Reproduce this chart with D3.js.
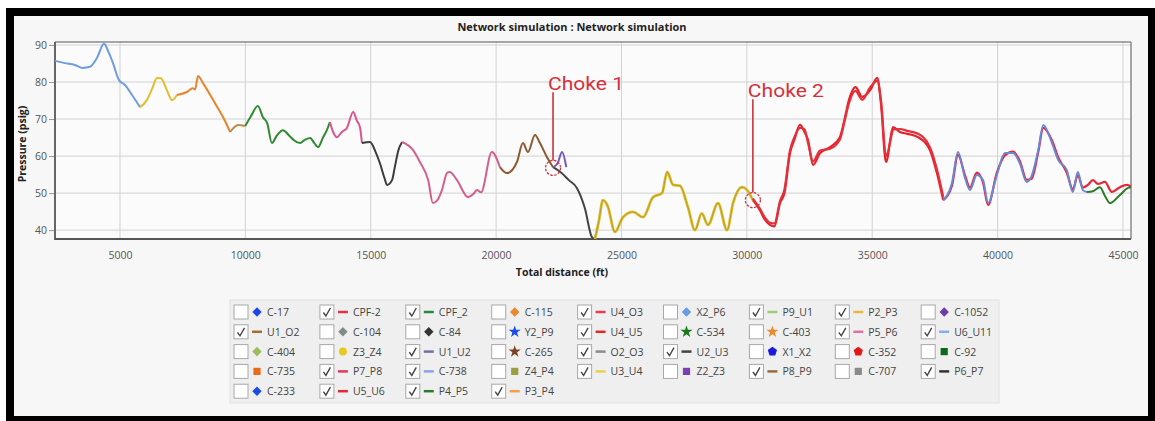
<!DOCTYPE html>
<html>
<head>
<meta charset="utf-8">
<script src="https://cdn.jsdelivr.net/npm/d3@7"></script>
<style>
  body { margin: 0; background: #fff; }
  svg { display: block; font-family: "Open Sans", "Noto Sans", sans-serif; }
</style>
</head>
<body>
<div id="viz"></div>
<script>

// ---- data ----
var xTicks = [5000, 10000, 15000, 20000, 25000, 30000, 35000, 40000, 45000];
var yTicks = [40, 50, 60, 70, 80, 90];

// series drawn in the plot, back to front
var seriesNames  = ["U6_U11", "P2_P3", "P3_P4", "U1_O2", "CPF_2", "P5_P6", "P6_P7", "P7_P8", "P8_P9",
                    "U2_U3", "U1_U2", "U3_U4", "U4_U5", "U4_O3", "U5_U6", "C-738", "P4_P5"];
var seriesColors = ["#6d9ce2", "#e3bd30", "#e8852c", "#c08a48", "#2f8a30", "#d9568c", "#3c3c3c", "#d2608f", "#8c5a32",
                    "#444444", "#7558b5", "#e0bf2a", "#e5202a", "#e5303a", "#e3283a", "#6a88d6", "#2a7a2a"];

var distU6U11 = [2408, 2800, 3200, 3525, 3800, 4080, 4362, 4550, 4720, 4960, 5200, 5480, 5800];
var psigU6U11 = [85.7, 85.1, 84.6, 83.8, 84.1, 86.5, 90.3, 88, 85.1, 80.5, 79.2, 76.5, 73.2];

var distP2P3 = [5800, 6070, 6300, 6470, 6630, 6870, 7070, 7270];
var psigP2P3 = [73.2, 75.1, 78.5, 81.1, 81, 77.8, 75.1, 76.5];

var distP3P4 = [7270, 7670, 7900, 8000, 8110, 8310, 8600, 8870, 9150, 9390];
var psigP3P4 = [76.5, 77.3, 78.3, 78, 81.6, 79.7, 76.5, 73.3, 70, 66.5];

var distU1O2 = [9390, 9710, 9990];
var psigU1O2 = [66.5, 68.4, 68.1];

var distCPF2 = [9990, 10200, 10500, 10700, 10870, 11060, 11250, 11500, 11750, 11950, 12180, 12400, 12580, 12750, 12900, 13100, 13250, 13370];
var psigCPF2 = [68.1, 70.5, 73.5, 70.5, 68.9, 63.5, 65.5, 67, 65.5, 64.2, 63.5, 64.5, 64.9, 63.5, 62.4, 65.1, 67, 69.2];

var distP5P6 = [13370, 13500, 13650, 13850, 14050, 14300, 14450, 14570, 14650];
var psigP5P6 = [69.2, 66.5, 65.1, 66.5, 67.6, 71.9, 69.5, 67.8, 63.5];

var distP6P7 = [14650, 14970, 15200, 15370, 15550, 15650, 15850, 15960, 16100, 16250];
var psigP6P7 = [63.5, 63.8, 61, 58, 54, 52.2, 53.5, 57, 61.5, 63.8];

var distP7P8 = [16250, 16690, 16960, 17290, 17480, 17650, 17840, 18040, 18150, 18440, 18880, 19100, 19240, 19400, 19830, 20150];
var psigP7P8 = [63.8, 61.6, 58.4, 53.5, 47.3, 48, 50.8, 55.4, 55.7, 53.5, 48.9, 49.8, 50.8, 50.2, 61.1, 57];

var distP8P9 = [20150, 20430, 20830, 21070, 21270, 21550, 21750, 22030, 22270];
var psigP8P9 = [57, 55.4, 58.4, 63.5, 61.1, 65.7, 63.5, 59.7, 57];

var distU2U3 = [22270, 22600, 22900, 23220, 23540, 23820, 23940];
var psigU2U3 = [57, 55.5, 53.5, 51.4, 45.9, 38.1, 37.6];

var distU1U2 = [22270, 22450, 22630, 22800];
var psigU1U2 = [57, 58, 61.1, 57];

var distU3U4 = [23940, 24100, 24260, 24450, 24740, 25060, 25460, 25860, 26260, 26620, 26820, 27060, 27330, 27650, 27930, 28200, 28450, 28850, 29210, 29450, 29810, 30010, 30240];
var psigU3U4 = [37.6, 42.5, 48.1, 46.5, 39.5, 43.5, 44.9, 43.5, 48.9, 50, 55.7, 52.2, 52, 46.2, 40, 44.5, 41.4, 47.3, 40, 47.3, 51.6, 50.8, 48.1];

var distU4U5 = [30240, 30520, 30700, 30920, 31100, 31320, 31500, 31720, 31900, 32120, 32300, 32440, 32640, 32920, 33320, 33710, 33900, 34070, 34330, 34600, 34920, 35200, 35350, 35550, 35790, 35830, 36100, 36400, 36830, 37300, 37580, 37830];
var psigU4U5 = [48.1, 45.4, 43, 41.4, 41, 47.3, 50, 60.8, 64.5, 68.4, 66.5, 64.3, 57.6, 60.8, 62.4, 65.1, 70, 75.1, 78.6, 76, 77.8, 81.1, 74, 58.4, 67, 67.8, 66.5, 66, 65.1, 61.6, 55.4, 48.1];

var distU4O3 = [30240, 30520, 30700, 30920, 31100, 31320, 31500, 31720, 31900, 32120, 32300, 32440, 32640, 32920, 33320, 33710, 33900, 34070, 34330, 34600, 34920, 35200, 35350, 35550, 35790, 35830, 36100, 36400, 36830, 37300, 37580, 37830];
var psigU4O3 = [48.5, 45.8, 43.6, 42, 41.8, 47.8, 51, 61.5, 65.2, 67.6, 67.2, 63.5, 58.6, 61.5, 62, 64.5, 69.5, 74.2, 77.6, 75.2, 78.6, 80.3, 75, 60, 66.2, 67.2, 67.3, 66.8, 66, 62.4, 56.4, 49];

var distU5U6 = [37830, 38180, 38420, 38700, 38900, 39170, 39420, 39620, 39970, 40290, 40620, 40890, 41160, 41350, 41620, 41820, 42170, 42420, 42760, 43000, 43200, 43400, 43600, 43800, 44000, 44280, 44560, 44880, 45160, 45320];
var psigU5U6 = [48.1, 52, 60.3, 54.8, 51.5, 55.5, 52.8, 46.8, 55.5, 60.2, 61.2, 58.6, 53.6, 53.8, 61, 67.6, 64.2, 59.6, 55.5, 51, 54.8, 51.5, 52.2, 53.5, 52.5, 53, 50.3, 51.6, 52.2, 51.8];

var distC738 = [37830, 38180, 38420, 38700, 38900, 39170, 39420, 39620, 39970, 40290, 40620, 40890, 41160, 41350, 41620, 41820, 42170, 42420, 42760, 43000, 43200, 43400, 43560];
var psigC738 = [48.1, 52.7, 61.1, 54.1, 50.8, 54.9, 53.5, 47.3, 54.9, 60.8, 60.8, 58, 53, 54.5, 61.6, 68.4, 63.5, 58.9, 56.2, 50.3, 55.7, 50.8, 50.3];

var distP4P5 = [43560, 43800, 44080, 44300, 44480, 44880, 45200, 45320];
var psigP4P5 = [50.3, 50.5, 51.6, 49, 47.3, 49.5, 51.4, 51.6];

var seriesDist = [distU6U11, distP2P3, distP3P4, distU1O2, distCPF2, distP5P6, distP6P7, distP7P8, distP8P9,
                  distU2U3, distU1U2, distU3U4, distU4U5, distU4O3, distU5U6, distC738, distP4P5];
var seriesPsig = [psigU6U11, psigP2P3, psigP3P4, psigU1O2, psigCPF2, psigP5P6, psigP6P7, psigP7P8, psigP8P9,
                  psigU2U3, psigU1U2, psigU3U4, psigU4U5, psigU4O3, psigU5U6, psigC738, psigP4P5];

// choke annotations
var chokeLabels = ["Choke 1", "Choke 2"];
var chokeDist = [22270, 30240];
var chokePsig = [56.8, 48.1];
var chokeLabelPsig = [77.8, 75.9];

// legend, row by row (9 columns)
var legendNames = [
  "C-17", "CPF-2", "CPF_2", "C-115", "U4_O3", "X2_P6", "P9_U1", "P2_P3", "C-1052",
  "U1_O2", "C-104", "C-84", "Y2_P9", "U4_U5", "C-534", "C-403", "P5_P6", "U6_U11",
  "C-404", "Z3_Z4", "U1_U2", "C-265", "O2_O3", "U2_U3", "X1_X2", "C-352", "C-92",
  "C-735", "P7_P8", "C-738", "Z4_P4", "U3_U4", "Z2_Z3", "P8_P9", "C-707", "P6_P7",
  "C-233", "U5_U6", "P4_P5", "P3_P4"];
var legendColors = [
  "#1f45e6", "#e0304a", "#2a8a3a", "#e8882a", "#e04050", "#6a9ae6", "#9acb78", "#e8b840", "#6a3fa8",
  "#a07030", "#7f8c8a", "#333333", "#1a4ee0", "#e02a2a", "#1a7a1a", "#e88a30", "#e070a8", "#86aee6",
  "#9ebc5c", "#e6c81e", "#7070a0", "#7a4422", "#8a8a8a", "#444444", "#1a1ae0", "#e01818", "#0a6a1a",
  "#e86a1a", "#e03a5a", "#8aa2e8", "#9aa040", "#ecd050", "#7a3fb0", "#9a6a40", "#8a8a8a", "#333333",
  "#1a4de0", "#e02a3a", "#2a7a2a", "#f0a050"];
var legendChecked = [
  0, 1, 1, 0, 1, 0, 1, 1, 0,
  1, 0, 0, 0, 1, 0, 0, 1, 1,
  0, 0, 1, 0, 1, 1, 0, 0, 0,
  0, 1, 1, 0, 1, 0, 1, 0, 1,
  0, 1, 1, 1];
var legendShapes = [
  "diamond", "line", "line", "diamond", "line", "diamond", "line", "line", "diamond",
  "line", "diamond", "diamond", "star", "line", "star", "star", "line", "line",
  "diamond", "circle", "line", "star", "line", "line", "pentagon", "pentagon", "square",
  "square", "line", "line", "square", "line", "square", "line", "square", "line",
  "diamond", "line", "line", "line"];

// ---- drawing ----
var W = 1155, H = 421;
var plot = {left: 55, right: 1131, top: 42, bottom: 239};

var svg = d3.select("#viz").append("svg")
  .attr("width", W)
  .attr("height", H);

svg.append("rect").attr("width", W).attr("height", H).attr("fill", "#fff");
// black frame round the screenshot
svg.append("rect").attr("x", 6).attr("y", 8).attr("width", W - 6).attr("height", H - 8).attr("fill", "#000");
svg.append("rect").attr("x", 14).attr("y", 16).attr("width", 1134).attr("height", 400).attr("fill", "#f7f7f7");

svg.append("text")
  .attr("x", 572).attr("y", 31)
  .attr("text-anchor", "middle")
  .attr("font-size", 11).attr("font-weight", "bold").attr("fill", "#222")
  .text("Network simulation : Network simulation");

var x = d3.scaleLinear().domain([2408, 45320]).range([plot.left, plot.right]);
var y = d3.scaleLinear().domain([37.6, 90.8]).range([plot.bottom, plot.top]);

svg.append("rect")
  .attr("x", plot.left).attr("y", plot.top)
  .attr("width", plot.right - plot.left).attr("height", plot.bottom - plot.top)
  .attr("fill", "#fbfbfb");

// grid
svg.append("g").selectAll("line").data(xTicks).enter().append("line")
  .attr("x1", function(d){return x(d)}).attr("x2", function(d){return x(d)})
  .attr("y1", plot.top).attr("y2", plot.bottom)
  .attr("stroke", "#d2d2d2");
svg.append("g").selectAll("line").data(yTicks).enter().append("line")
  .attr("x1", plot.left).attr("x2", plot.right)
  .attr("y1", function(d){return y(d)}).attr("y2", function(d){return y(d)})
  .attr("stroke", "#d2d2d2");

// axes
var xAxis = svg.append("g")
  .attr("transform", "translate(0," + plot.bottom + ")")
  .call(d3.axisBottom(x).tickValues(xTicks).tickSize(0).tickPadding(13).tickFormat(d3.format("d")));
var yAxis = svg.append("g")
  .attr("transform", "translate(" + plot.left + ",0)")
  .call(d3.axisLeft(y).tickValues(yTicks).tickSize(6).tickPadding(2));
[xAxis, yAxis].forEach(function(a){
  a.select(".domain").remove();
  a.selectAll("text").attr("font-family", "'Open Sans', sans-serif").attr("font-size", 10.5).attr("fill", "#555");
  a.selectAll("line").attr("stroke", "#999");
});

// plot frame
svg.append("line").attr("x1", plot.left).attr("x2", plot.right).attr("y1", plot.top).attr("y2", plot.top)
  .attr("stroke", "#8a8a8a").attr("stroke-width", 1.5);
svg.append("line").attr("x1", plot.right).attr("x2", plot.right).attr("y1", plot.top).attr("y2", plot.bottom)
  .attr("stroke", "#8a8a8a").attr("stroke-width", 1.5);
svg.append("line").attr("x1", plot.left).attr("x2", plot.left).attr("y1", plot.top).attr("y2", plot.bottom + 1)
  .attr("stroke", "#666").attr("stroke-width", 2);
svg.append("line").attr("x1", plot.left).attr("x2", plot.right).attr("y1", plot.bottom).attr("y2", plot.bottom)
  .attr("stroke", "#555").attr("stroke-width", 2.2);

svg.append("text")
  .attr("x", 562).attr("y", 276)
  .attr("text-anchor", "middle")
  .attr("font-size", 10.5).attr("font-weight", "bold").attr("fill", "#222")
  .text("Total distance (ft)");
svg.append("text")
  .attr("transform", "translate(26,144) rotate(-90)")
  .attr("text-anchor", "middle")
  .attr("font-size", 10.5).attr("font-weight", "bold").attr("fill", "#222")
  .text("Pressure (psig)");

// series
var line = d3.line()
  .x(function(d){return x(d[0])})
  .y(function(d){return y(d[1])})
  .curve(d3.curveMonotoneX);

var plotG = svg.append("g");
seriesNames.forEach(function(name, i){
  var pts = seriesDist[i].map(function(d, j){return [d, seriesPsig[i][j]]});
  var red = name == "U4_U5" || name == "U4_O3" || name == "U5_U6";
  plotG.append("path")
    .datum(pts)
    .attr("fill", "none")
    .attr("stroke", seriesColors[i])
    .attr("stroke-width", red ? 2.2 : (name == "U3_U4" ? 2.8 : 2))
    .attr("stroke-linejoin", "round")
    .attr("d", line);
  if (name == "U3_U4") {
    // darker series lying on top of the yellow one
    plotG.append("path")
      .datum(pts)
      .attr("fill", "none")
      .attr("stroke", "#6b5a30")
      .attr("stroke-opacity", 0.35)
      .attr("stroke-width", 1)
      .attr("d", line);
  }
});

// choke annotations
chokeLabels.forEach(function(lbl, i){
  var cx = x(chokeDist[i]), cy = y(chokePsig[i]);
  svg.append("circle")
    .attr("cx", cx).attr("cy", cy).attr("r", 7.5)
    .attr("fill", "none").attr("stroke", "#c8343c").attr("stroke-width", 1.3)
    .attr("stroke-dasharray", "2.5,1.5");
  svg.append("line")
    .attr("x1", cx).attr("x2", cx)
    .attr("y1", y(chokeLabelPsig[i]) + 2).attr("y2", cy - 7.5)
    .attr("stroke", "#c8343c").attr("stroke-width", 1.6);
  svg.append("text")
    .attr("x", cx - 5).attr("y", y(chokeLabelPsig[i]))
    .attr("font-family", "Roboto, sans-serif")
    .attr("font-size", 19).attr("fill", "#d6303c")
    .attr("textLength", 76).attr("lengthAdjust", "spacingAndGlyphs")
    .text(lbl);
});

// legend
var leg = svg.append("g");
leg.append("rect")
  .attr("x", 230).attr("y", 300).attr("width", 769).attr("height", 103)
  .attr("fill", "#efefef").attr("stroke", "#e2e2e2");

var symbolFor = {
  diamond: d3.symbol().type(d3.symbolDiamond).size(42),
  star: d3.symbol().type(d3.symbolStar).size(46),
  circle: d3.symbol().type(d3.symbolCircle).size(50),
  square: d3.symbol().type(d3.symbolSquare).size(52),
  pentagon: d3.symbol().type({draw: function(ctx, size){
    var r = Math.sqrt(size / 2.4);
    for (var k = 0; k < 5; k++) {
      var a = -Math.PI / 2 + k * 2 * Math.PI / 5;
      if (k == 0) ctx.moveTo(r * Math.cos(a), r * Math.sin(a));
      else ctx.lineTo(r * Math.cos(a), r * Math.sin(a));
    }
    ctx.closePath();
  }}).size(56)
};

var items = leg.selectAll("g.item").data(legendNames).enter().append("g")
  .attr("class", "item")
  .attr("transform", function(d, i){
    return "translate(" + (234 + (i % 9) * 85.9) + "," + (312 + Math.floor(i / 9) * 19.8) + ")";
  });

items.append("rect")
  .attr("x", 0).attr("y", -7).attr("width", 14).attr("height", 14)
  .attr("fill", "#fff").attr("stroke", "#a8a8a8");
items.filter(function(d, i){return legendChecked[i]}).append("path")
  .attr("d", "M3.5,0.5 L6,4 L10.5,-4")
  .attr("fill", "none").attr("stroke", "#444").attr("stroke-width", 1.4);

items.each(function(d, i){
  var g = d3.select(this);
  if (legendShapes[i] == "line") {
    g.append("line").attr("x1", 18).attr("x2", 28).attr("y1", 0).attr("y2", 0)
      .attr("stroke", legendColors[i]).attr("stroke-width", 2.5);
  } else {
    g.append("path")
      .attr("transform", "translate(23,0)" + (legendShapes[i] == "diamond" ? " scale(1.35,0.8)" : ""))
      .attr("d", symbolFor[legendShapes[i]])
      .attr("fill", legendColors[i]);
  }
});

items.append("text")
  .attr("x", 33).attr("y", 4)
  .attr("font-size", 10.5).attr("fill", "#444")
  .text(function(d){return d});

</script>
</body>
</html>
